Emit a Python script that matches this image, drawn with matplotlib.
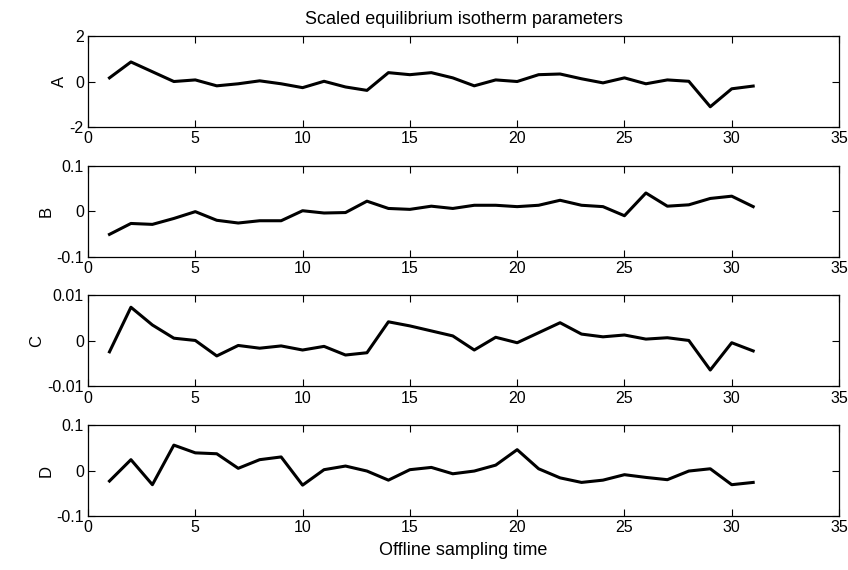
import numpy as np
import matplotlib.pyplot as plt

plt.rcParams['font.family'] = ['Liberation Sans', 'DejaVu Sans']

# dados
t = list(range(1, 32))
A = [0.16, 0.86, 0.43, 0.0, 0.07, -0.19, -0.10, 0.03, -0.10, -0.27,
     0.01, -0.24, -0.39, 0.39, 0.30, 0.39, 0.16, -0.19, 0.07, 0.0,
     0.30, 0.33, 0.12, -0.06, 0.16, -0.10, 0.07, 0.01, -1.11, -0.32, -0.20]
B = [-0.051, -0.027, -0.029, -0.016, -0.001, -0.020, -0.026, -0.021, -0.021, 0.001,
     -0.004, -0.003, 0.022, 0.006, 0.004, 0.011, 0.006, 0.013, 0.013, 0.010,
     0.013, 0.024, 0.013, 0.010, -0.010, 0.040, 0.011, 0.014, 0.028, 0.033, 0.010]
C = [-0.0024, 0.0074, 0.0035, 0.0006, 0.0001, -0.0033, -0.0010, -0.0016, -0.0011, -0.0020,
     -0.0012, -0.0031, -0.0026, 0.0042, 0.0033, 0.0022, 0.0011, -0.0020, 0.0008, -0.0004,
     0.0018, 0.0040, 0.0015, 0.0009, 0.0013, 0.0004, 0.0007, 0.0001, -0.0064, -0.0004, -0.0022]
D = [-0.023, 0.024, -0.031, 0.056, 0.039, 0.037, 0.005, 0.024, 0.030, -0.032,
     0.002, 0.010, -0.001, -0.021, 0.002, 0.007, -0.007, -0.001, 0.012, 0.046,
     0.004, -0.016, -0.026, -0.021, -0.009, -0.015, -0.020, -0.001, 0.004, -0.031, -0.026]

series = [A, B, C, D]
names = ['A', 'B', 'C', 'D']
ylims = [(-2, 2), (-0.1, 0.1), (-0.01, 0.01), (-0.1, 0.1)]
yticks = [[-2, 0, 2], [-0.1, 0, 0.1], [-0.01, 0, 0.01], [-0.1, 0, 0.1]]
ylabels = [['-2', '0', '2'], ['-0.1', '0', '0.1'], ['-0.01', '0', '0.01'], ['-0.1', '0', '0.1']]

fig = plt.figure(figsize=(8.48, 5.70), dpi=100)

left, width, h = 0.1038, 0.8856, 0.1596
bottoms = [0.7772, 0.5497, 0.3221, 0.0946]

for i in range(4):
    ax = fig.add_axes([left, bottoms[i], width, h])
    ax.plot(t, series[i], color='black', lw=2.2)
    ax.set_xlim(0, 35)
    ax.set_ylim(*ylims[i])
    ax.set_xticks(range(0, 36, 5))
    ax.set_yticks(yticks[i])
    ax.set_yticklabels(ylabels[i])
    ax.tick_params(direction='in', top=True, right=True, length=5, width=0.8,
                   labelsize=11.5, pad=3)
    for s in ax.spines.values():
        s.set_linewidth(0.9)
    ax.set_ylabel(names[i], fontsize=12, labelpad=2)
    if i == 0:
        ax.set_title('Scaled equilibrium isotherm parameters', fontsize=13, pad=9)
    if i == 3:
        ax.set_xlabel('Offline sampling time', fontsize=13, labelpad=5)

fig.savefig('out.png', dpi=100)
